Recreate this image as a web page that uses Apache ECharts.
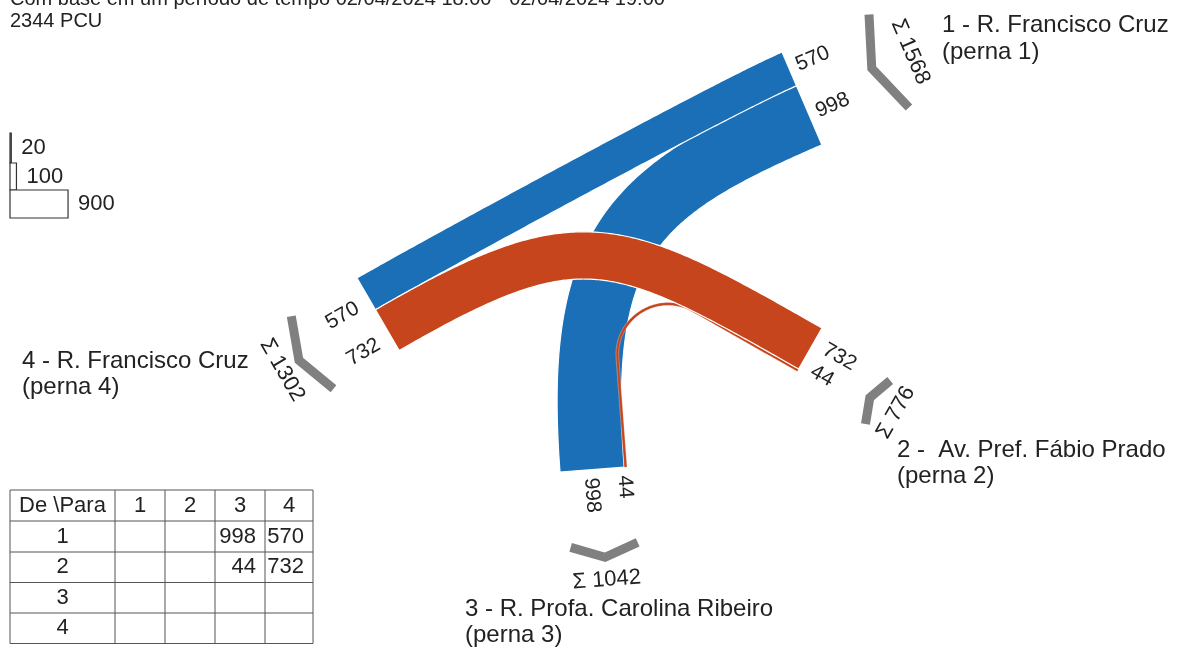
<!DOCTYPE html>
<html><head><meta charset="utf-8">
<script src="https://cdn.jsdelivr.net/npm/echarts@6/dist/echarts.min.js"></script>
<style>html,body{margin:0;padding:0;background:#fff}#c{width:1179px;height:648px}</style>
</head><body><div id="c"></div><script>
// ---------------- data ----------------
const legIds = [1, 2, 3, 4];
const legNames = ['1 - R. Francisco Cruz', '2 -  Av. Pref. Fábio Prado', '3 - R. Profa. Carolina Ribeiro', '4 - R. Francisco Cruz'];
const legSubtitles = ['(perna 1)', '(perna 2)', '(perna 3)', '(perna 4)'];
// origin-destination matrix rows (De \ Para)
const fromLeg1 = [null, null, 998, 570];
const fromLeg2 = [null, null, 44, 732];
const fromLeg3 = [null, null, null, null];
const fromLeg4 = [null, null, null, null];
const scaleLegendValues = [20, 100, 900];
const periodText = 'Com base em um período de tempo 02/04/2024 18:00 - 02/04/2024 19:00';
const unitText = 'PCU';
const tableHeader = 'De \\Para';

// ---------------- layout / style ----------------
const matrix = [fromLeg1, fromLeg2, fromLeg3, fromLeg4];
const S = 0.0645; // pixels per PCU (band width scale)
const FONT = "'Liberation Sans', Arial, sans-serif";
const TXT = '#222';
const originColor = {1: '#1b6fb6', 2: '#c6451d', 3: '#3a9a3a', 4: '#8a5ab0'};
function norm(v){ const l = Math.hypot(v[0], v[1]); return [v[0]/l, v[1]/l]; }
const LEG = {
  1: {start: [782, 52],  u: norm([40, 93]),  d: norm([-93, 40]), lab: 8,  labShift: 0},
  2: {start: [822, 328], u: norm([-25, 44]), d: norm([-44, -25]), lab: 12, labShift: -7},
  3: {start: [560, 472], u: norm([67, -5]),  d: norm([-5, -67]), lab: 8,  labShift: -2},
  4: {start: [357, 278], u: norm([43, 74]),  d: norm([74, -43]), lab: 14, labShift: 7}
};
const SLOT_ORDER = {1: [[1,4],[1,3]], 2: [[2,4],[2,3]], 3: [[1,3],[2,3]], 4: [[1,4],[2,4]]};
const CURVE = {
  '1-4': {type: 'bezier', k: [70, 70]},
  '1-3': {type: 'bezier', k: [190, 230]},
  '2-4': {type: 'bezier', k: [223, 223]},
  '2-3': {type: 'fillet', t: 95}
};
const CHEV = {D: 76, depthRatio: 0.37, shift: {1: 0, 2: 12, 3: 5, 4: 0}, sigmaDist: {1: 118, 2: 106, 3: 111, 4: 111}};

const add = (a, b) => [a[0]+b[0], a[1]+b[1]];
const sub = (a, b) => [a[0]-b[0], a[1]-b[1]];
const mul = (a, k) => [a[0]*k, a[1]*k];
function flowValue(o, d){ return matrix[o-1][d-1] || 0; }
function slotRange(leg, o, d){
  let acc = 0;
  for (const [so, sd] of SLOT_ORDER[leg]) {
    const w = flowValue(so, sd) * S;
    if (so === o && sd === d) return [acc, acc + w];
    acc += w;
  }
  return [acc, acc];
}
function legTotal(id){
  let t = 0;
  for (let k = 0; k < 4; k++) { t += (matrix[id-1][k] || 0) + (matrix[k][id-1] || 0); }
  return t;
}
function isOrigin(id){ return matrix[id-1].some(v => v); }

const flows = [];
matrix.forEach((row, i) => row.forEach((v, j) => { if (v) flows.push([i+1, j+1, v]); }));
const grandTotal = flows.reduce((s, f) => s + f[2], 0);

function cubic(P0, P1, P2, P3, n, out, skipFirst){
  for (let i = skipFirst ? 1 : 0; i <= n; i++) {
    const t = i / n, mt = 1 - t;
    const a = mt*mt*mt, b = 3*mt*mt*t, c = 3*mt*t*t, d = t*t*t;
    out.push([a*P0[0]+b*P1[0]+c*P2[0]+d*P3[0], a*P0[1]+b*P1[1]+c*P2[1]+d*P3[1]]);
  }
}
function lineSeg(A, B, n, out, skipFirst){
  for (let i = skipFirst ? 1 : 0; i <= n; i++) { const t = i / n; out.push([A[0]+(B[0]-A[0])*t, A[1]+(B[1]-A[1])*t]); }
}
function centerline(cA, dA, cB, dB, spec){
  const pts = [];
  if (spec.type === 'bezier') {
    cubic(cA, add(cA, mul(dA, spec.k[0])), add(cB, mul(dB, spec.k[1])), cB, 160, pts, false);
  } else {
    const w = sub(cB, cA);
    const det = -dA[0]*dB[1] + dB[0]*dA[1];
    const s = (w[0]*(-dB[1]) + dB[0]*w[1]) / det;
    const r = (dA[0]*w[1] - dA[1]*w[0]) / det;
    const T = Math.min(spec.t, s, r);
    const phi = Math.acos(-(dA[0]*dB[0] + dA[1]*dB[1]));
    const R = T / Math.tan(phi/2);
    const h = 4/3 * Math.tan(phi/4) * R;
    const T1 = add(cA, mul(dA, s - T)), T2 = add(cB, mul(dB, r - T));
    lineSeg(cA, T1, 40, pts, false);
    cubic(T1, add(T1, mul(dA, h)), add(T2, mul(dB, h)), T2, 80, pts, true);
    lineSeg(T2, cB, 40, pts, true);
  }
  return pts;
}

function labelEl(api, anchor, dir, text, size){
  let th = Math.atan2(dir[1], dir[0]);
  let align = 'left';
  if (Math.cos(th) < -0.01) { th += Math.PI; align = 'right'; }
  const p = api.coord(anchor);
  return {type: 'text', x: p[0], y: p[1], rotation: -th,
    style: {text: text, font: size + 'px ' + FONT, fill: TXT, align: align, verticalAlign: 'middle'}};
}

function renderFlow(params, api){
  const o = api.value(0), dst = api.value(1), v = api.value(2);
  const A = LEG[o], B = LEG[dst];
  const ra = slotRange(o, o, dst), rb = slotRange(dst, o, dst);
  const cA = add(A.start, mul(A.u, (ra[0]+ra[1])/2));
  const cB = add(B.start, mul(B.u, (rb[0]+rb[1])/2));
  const w = v * S;
  const c = centerline(cA, A.d, cB, B.d, CURVE[o + '-' + dst]);
  const left = [], right = [], n = c.length;
  for (let i = 0; i < n; i++) {
    let tg;
    if (i === 0) tg = A.d;
    else if (i === n - 1) tg = mul(B.d, -1);
    else tg = sub(c[i+1], c[i-1]);
    const nn = norm([-tg[1], tg[0]]);
    left.push(add(c[i], mul(nn, w/2)));
    right.push(add(c[i], mul(nn, -w/2)));
  }
  const pts = left.concat(right.reverse()).map(p => api.coord(p));
  const outA = mul(A.d, -1), outB = mul(B.d, -1);
  const lA = add(add(cA, mul(outA, A.lab)), mul(A.u, A.labShift));
  const lB = add(add(cB, mul(outB, B.lab)), mul(B.u, B.labShift));
  return {type: 'group', children: [
    {type: 'polygon', shape: {points: pts},
      style: {fill: originColor[o], stroke: v < 100 ? 'rgba(255,255,255,0.6)' : '#fff', lineWidth: v < 100 ? 0.5 : 1.2}},
    labelEl(api, lA, outA, String(v), 21),
    labelEl(api, lB, outB, String(v), 21)
  ]};
}

function renderLeg(params, api){
  const id = api.value(0), total = api.value(1);
  const L = LEG[id];
  const half = total * S / 2;
  const out = mul(L.d, -1);
  const c = add(L.start, mul(L.u, half + CHEV.shift[id]));
  const depth = CHEV.depthRatio * half;
  const orig = isOrigin(id);
  const cornerD = orig ? CHEV.D : CHEV.D + depth;
  const endD = orig ? CHEV.D + depth : CHEV.D;
  const e1 = add(add(c, mul(L.u, -half)), mul(out, endD));
  const cr = add(c, mul(out, cornerD));
  const e2 = add(add(c, mul(L.u, half)), mul(out, endD));
  const sig = add(c, mul(out, CHEV.sigmaDist[id]));
  let th = Math.atan2(L.u[1], L.u[0]);
  if (Math.cos(th) < -0.01) th += Math.PI;
  const sp = api.coord(sig);
  return {type: 'group', children: [
    {type: 'polyline', shape: {points: [e1, cr, e2].map(p => api.coord(p))},
      style: {stroke: '#808080', lineWidth: 9, fill: null, lineJoin: 'miter', lineCap: 'butt'}},
    {type: 'text', x: sp[0], y: sp[1], rotation: -th,
      style: {text: 'Σ ' + total, font: '22px ' + FONT, fill: TXT, align: 'center', verticalAlign: 'middle'}}
  ]};
}

const LEGEND_BOX = {x: 10, tops: [133, 163, 190], heights: [30, 27, 28]};
function renderScale(params, api){
  const i = params.dataIndex, v = api.value(0);
  const p0 = api.coord([LEGEND_BOX.x, LEGEND_BOX.tops[i]]);
  const p1 = api.coord([LEGEND_BOX.x + v * S, LEGEND_BOX.tops[i] + LEGEND_BOX.heights[i]]);
  return {type: 'group', children: [
    {type: 'rect', shape: {x: p0[0], y: p0[1], width: p1[0]-p0[0], height: p1[1]-p0[1]},
      style: {fill: '#fff', stroke: '#333', lineWidth: 1.2}},
    {type: 'text', x: p1[0] + 10, y: (p0[1]+p1[1])/2,
      style: {text: String(v), font: '22px ' + FONT, fill: TXT, align: 'left', verticalAlign: 'middle'}}
  ]};
}

// ---------------- static texts & table ----------------
const graphics = [];
function txt(x, y, text, size, align){
  graphics.push({type: 'text', x: x, y: y, silent: true,
    style: {text: text, font: size + 'px ' + FONT, fill: TXT, align: align || 'left', verticalAlign: 'middle'}});
}
txt(10, -1, periodText, 20);
txt(10, 21, grandTotal + ' ' + unitText, 20);
const streetPos = {1: [942, 25, 52], 2: [897, 450, 476], 3: [465, 609, 635], 4: [22, 361, 387]};
legIds.forEach((id, i) => {
  const p = streetPos[id];
  txt(p[0], p[1], legNames[i], 24);
  txt(p[0], p[2], legSubtitles[i], 24);
});
const colX = [10, 115, 165, 215, 265, 313];
const rowY = [490, 521, 552, 582.5, 613, 643.5];
colX.forEach(x => graphics.push({type: 'line', shape: {x1: x, y1: rowY[0], x2: x, y2: rowY[5]}, style: {stroke: '#555', lineWidth: 1}}));
rowY.forEach(y => graphics.push({type: 'line', shape: {x1: colX[0], y1: y, x2: colX[5], y2: y}, style: {stroke: '#555', lineWidth: 1}}));
txt((colX[0]+colX[1])/2, (rowY[0]+rowY[1])/2, tableHeader, 22, 'center');
legIds.forEach((id, j) => txt((colX[j+1]+colX[j+2])/2, (rowY[0]+rowY[1])/2, String(id), 22, 'center'));
legIds.forEach((id, i) => {
  const cy = (rowY[i+1]+rowY[i+2])/2;
  txt((colX[0]+colX[1])/2, cy, String(id), 22, 'center');
  matrix[i].forEach((v, j) => { if (v) txt(colX[j+2] - 9, cy, String(v), 22, 'right'); });
});

const chart = echarts.init(document.getElementById('c'), null, {renderer: 'canvas'});
chart.setOption({
  animation: false,
  backgroundColor: '#fff',
  grid: {left: 0, right: 0, top: 0, bottom: 0},
  xAxis: {type: 'value', min: 0, max: 1179, show: false},
  yAxis: {type: 'value', min: 0, max: 648, inverse: true, show: false},
  series: [
    {type: 'custom', coordinateSystem: 'cartesian2d', renderItem: renderFlow, data: flows, encode: {x: -1, y: -1}, silent: true},
    {type: 'custom', coordinateSystem: 'cartesian2d', renderItem: renderLeg, data: legIds.map(id => [id, legTotal(id)]), encode: {x: -1, y: -1}, silent: true},
    {type: 'custom', coordinateSystem: 'cartesian2d', renderItem: renderScale, data: scaleLegendValues.map(v => [v]), encode: {x: -1, y: -1}, silent: true}
  ],
  graphic: graphics
});
</script></body></html>
